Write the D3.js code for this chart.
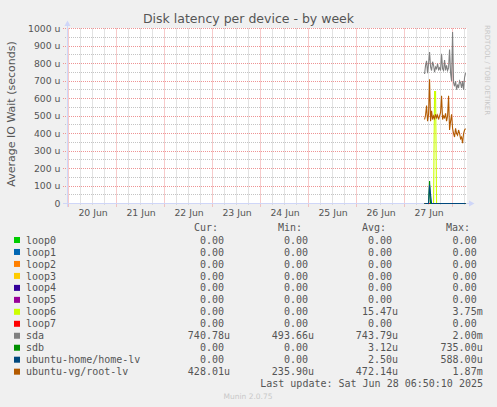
<!DOCTYPE html>
<html><head><meta charset="utf-8">
<script src="https://cdn.jsdelivr.net/npm/d3@7"></script>
<style>
html,body{margin:0;padding:0;background:#F0F0F0;}
svg{display:block;}
text{font-family:"DejaVu Sans",sans-serif;}
.mono{font-family:"DejaVu Sans Mono",monospace;white-space:pre;}
</style></head><body>
<svg id="chart" width="497" height="407"></svg>
<script>
// ---------------- data ----------------
const chartTitle = "Disk latency per device - by week";
const yAxisTitle = "Average IO Wait (seconds)";
const watermark = "RRDTOOL / TOBI OETIKER";
const footer = "Munin 2.0.75";
const lastUpdate = "Last update: Sat Jun 28 06:50:10 2025";

const seriesNames = ["loop0","loop1","loop2","loop3","loop4","loop5","loop6","loop7","sda","sdb","ubuntu-home/home-lv","ubuntu-vg/root-lv"];
const seriesColors = ["#00CC00","#0066B3","#FF8000","#FFCC00","#330099","#990099","#CCFF00","#FF0000","#808080","#008F00","#00487D","#B35A00"];

const yTickValues = [0,100,200,300,400,500,600,700,800,900,1000];
const yTickLabels = ["0","100 u","200 u","300 u","400 u","500 u","600 u","700 u","800 u","900 u","1000 u"];
const xTickDates = ["2025-06-20T12:00:00Z","2025-06-21T12:00:00Z","2025-06-22T12:00:00Z","2025-06-23T12:00:00Z","2025-06-24T12:00:00Z","2025-06-25T12:00:00Z","2025-06-26T12:00:00Z","2025-06-27T12:00:00Z"];
const xTickLabels = ["20 Jun","21 Jun","22 Jun","23 Jun","24 Jun","25 Jun","26 Jun","27 Jun"];
const timeDomain = ["2025-06-19T23:10:00Z","2025-06-28T07:10:00Z"];
const dataStart = "2025-06-27T10:00:00Z";
const stepMinutes = 30;

// values in microseconds (u)
const loop0 = [0,0,0,0,0,0,0,0,0,0,0,0,0,0,0,0,0,0,0,0,0,0,0,0,0,0,0,0,0,0,0,0,0,0,0,0,0,0,0,0,0,0];
const loop1 = [0,0,0,0,0,0,0,0,0,0,0,0,0,0,0,0,0,0,0,0,0,0,0,0,0,0,0,0,0,0,0,0,0,0,0,0,0,0,0,0,0,0];
const loop2 = [0,0,0,0,0,0,0,0,0,0,0,0,0,0,0,0,0,0,0,0,0,0,0,0,0,0,0,0,0,0,0,0,0,0,0,0,0,0,0,0,0,0];
const loop3 = [0,0,0,0,0,0,0,0,0,0,0,0,0,0,0,0,0,0,0,0,0,0,0,0,0,0,0,0,0,0,0,0,0,0,0,0,0,0,0,0,0,0];
const loop4 = [0,0,0,0,0,0,0,0,0,0,0,0,0,0,0,0,0,0,0,0,0,0,0,0,0,0,0,0,0,0,0,0,0,0,0,0,0,0,0,0,0,0];
const loop5 = [0,0,0,0,0,0,0,0,0,0,0,0,0,0,0,0,0,0,0,0,0,0,0,0,0,0,0,0,0,0,0,0,0,0,0,0,0,0,0,0,0,0];
const loop6 = [0,0,0,0,0,0,0,0,0,0,640,640,0,0,0,0,0,0,0,0,0,0,0,0,0,0,0,0,0,0,0,0,0,0,0,0,0,0,0,0,0,0];
const loop7 = [0,0,0,0,0,0,0,0,0,0,0,0,0,0,0,0,0,0,0,0,0,0,0,0,0,0,0,0,0,0,0,0,0,0,0,0,0,0,0,0,0,0];
const sda   = [740,790,815,745,800,865,780,760,810,790,750,780,770,800,765,775,760,855,770,760,820,760,790,760,775,880,745,700,980,690,670,700,650,680,660,700,690,660,700,650,720,745];
const sdb   = [0,0,0,0,0,128,0,0,0,0,0,0,0,0,0,0,0,0,0,0,0,0,0,0,0,0,0,0,0,0,0,0,0,0,0,0,0,0,0,0,0,0];
const homeLv = [0,0,0,0,0,105,50,0,0,0,0,0,0,0,0,0,0,0,0,0,0,0,0,0,0,0,0,0,0,0,0,0,0,0,0,0,0,0,0,0,0,0];
const rootLv = [480,505,560,470,510,710,470,530,480,500,485,510,490,505,480,500,520,615,480,500,490,515,470,500,615,420,470,510,430,400,380,430,400,390,420,400,370,380,345,400,420,428];

const seriesValues = [loop0,loop1,loop2,loop3,loop4,loop5,loop6,loop7,sda,sdb,homeLv,rootLv];

const legendHeaders = ["Cur:","Min:","Avg:","Max:"];
const curLabels = ["0.00 ","0.00 ","0.00 ","0.00 ","0.00 ","0.00 ","0.00 ","0.00 ","740.78u","0.00 ","0.00 ","428.01u"];
const minLabels = ["0.00 ","0.00 ","0.00 ","0.00 ","0.00 ","0.00 ","0.00 ","0.00 ","493.66u","0.00 ","0.00 ","235.90u"];
const avgLabels = ["0.00 ","0.00 ","0.00 ","0.00 ","0.00 ","0.00 ","15.47u","0.00 ","743.79u","3.12u","2.50u","472.14u"];
const maxLabels = ["0.00 ","0.00 ","0.00 ","0.00 ","0.00 ","0.00 ","3.75m","0.00 ","2.00m","735.00u","588.00u","1.87m"];

// ---------------- drawing ----------------
const svg = d3.select("#chart");
const FONT = "#555555";
const AXIS = "#CFD6F8";
const plot = {left: 67, right: 467, top: 28.5, bottom: 203.5};

const x = d3.scaleUtc().domain(timeDomain.map(d => new Date(d))).range([66.9, 466.9]);
const y = d3.scaleLinear().domain([0, 1000]).range([plot.bottom, plot.top]);

svg.append("rect").attr("x", 0).attr("y", 0).attr("width", 497).attr("height", 407).attr("fill", "#F0F0F0");
svg.append("rect").attr("x", plot.left).attr("y", 28).attr("width", plot.right - plot.left).attr("height", 176).attr("fill", "#FFFFFF");

const crisp = v => Math.floor(v) + 0.5;

// horizontal minor grid (every 50)
const minorY = d3.range(50, 1000, 100);
svg.append("g").selectAll("line").data(minorY).join("line")
  .attr("x1", 65).attr("x2", plot.right)
  .attr("y1", d => crisp(y(d))).attr("y2", d => crisp(y(d)))
  .attr("stroke", "#C4C4C4").attr("stroke-width", 1).attr("stroke-dasharray", "1,1");

// vertical minor grid (every 6h)
const minorX = d3.utcHour.every(6).range(new Date("2025-06-19T23:10:00Z"), new Date("2025-06-28T07:10:00Z"))
  .filter(d => d.getUTCHours() !== 0);
svg.append("g").selectAll("line").data(minorX).join("line")
  .attr("x1", d => crisp(x(d))).attr("x2", d => crisp(x(d)))
  .attr("y1", plot.top).attr("y2", 205)
  .attr("stroke", "#C4C4C4").attr("stroke-width", 1).attr("stroke-dasharray", "1,1");

// major horizontal grid
svg.append("g").selectAll("line").data(yTickValues.slice(1)).join("line")
  .attr("x1", 63).attr("x2", plot.right)
  .attr("y1", d => crisp(y(d))).attr("y2", d => crisp(y(d)))
  .attr("stroke", "#EE9494").attr("stroke-width", 1).attr("stroke-dasharray", "1,1");

// major vertical grid (midnights)
const majorX = d3.utcDay.range(new Date("2025-06-19T23:10:00Z"), new Date("2025-06-28T07:10:00Z"));
svg.append("g").selectAll("line").data(majorX).join("line")
  .attr("x1", d => crisp(x(d))).attr("x2", d => crisp(x(d)))
  .attr("y1", plot.top).attr("y2", 207)
  .attr("stroke", "#EE9494").attr("stroke-width", 1).attr("stroke-dasharray", "1,1");

// axes lines + arrows
svg.append("line").attr("x1", 63).attr("x2", 470).attr("y1", plot.bottom).attr("y2", plot.bottom).attr("stroke", AXIS);
svg.append("line").attr("x1", 67.5).attr("x2", 67.5).attr("y1", 207).attr("y2", 25).attr("stroke", AXIS);
svg.append("path").attr("d", "M469,200.5L469,206.5L474.5,203.5Z").attr("fill", AXIS);
svg.append("path").attr("d", "M64.5,26L70.5,26L67.5,20.5Z").attr("fill", AXIS);

// y axis labels via d3 axis
const yAxis = d3.axisLeft(y).tickValues(yTickValues)
  .tickFormat((d, i) => yTickLabels[i]).tickSize(0).tickPadding(7);
const gy = svg.append("g").attr("transform", "translate(67.5,0)").call(yAxis);
gy.select(".domain").remove();
gy.selectAll("text").attr("fill", FONT).style("font-family", "DejaVu Sans").style("font-size", "9.3px");

// x axis labels via d3 axis
const xAxis = d3.axisBottom(x).tickValues(xTickDates.map(d => new Date(d)))
  .tickFormat((d, i) => xTickLabels[i]).tickSize(0).tickPadding(6);
const gx = svg.append("g").attr("transform", "translate(0," + plot.bottom + ")").call(xAxis);
gx.select(".domain").remove();
gx.selectAll("text").attr("fill", FONT).style("font-family", "DejaVu Sans").style("font-size", "9.3px");

// series lines
const t0 = new Date(dataStart).getTime();
const line = d3.line()
  .x((d, i) => x(new Date(t0 + i * stepMinutes * 60000)))
  .y(d => y(d));
seriesValues.forEach((vals, k) => {
  svg.append("path").datum(vals)
    .attr("d", line)
    .attr("fill", "none")
    .attr("stroke", seriesColors[k])
    .attr("stroke-width", 1.1)
    .attr("stroke-linejoin", "miter");
});

// title
svg.append("text").attr("x", 248.5).attr("y", 23.3).attr("text-anchor", "middle")
  .attr("fill", FONT).style("font-size", "12.5px").text(chartTitle);

// y axis title
svg.append("text").attr("transform", "translate(14.5,114) rotate(-90)").attr("text-anchor", "middle")
  .attr("fill", FONT).style("font-size", "11px").text(yAxisTitle);

// watermark
svg.append("text").attr("transform", "translate(485,25) rotate(90)").attr("text-anchor", "start")
  .attr("fill", "#C8C8C8").style("font-size", "7px").text(watermark);

// legend
const rowCenter = i => 240 + i * 11.97;
const colStarts = [194, 278, 362, 446];
const colRights = [230, 314, 398, 482.7];
const lg = svg.append("g").attr("class", "mono").style("font-size", "10px");
lg.selectAll("text.hdr").data(legendHeaders).join("text").attr("class", "hdr mono")
  .attr("x", (d, i) => colStarts[i]).attr("y", 231.3).attr("fill", FONT).text(d => d);

seriesNames.forEach((name, i) => {
  const cy = rowCenter(i);
  lg.append("rect").attr("x", 14).attr("y", cy - 3).attr("width", 6).attr("height", 6).attr("fill", seriesColors[i]);
  lg.append("text").attr("class", "mono").attr("x", 26).attr("y", cy + 3.6).attr("fill", FONT).text(name);
  [curLabels, minLabels, avgLabels, maxLabels].forEach((arr, c) => {
    lg.append("text").attr("class", "mono").attr("x", colRights[c]).attr("y", cy + 3.6)
      .attr("text-anchor", "end").attr("fill", FONT).text(arr[i]);
  });
});
lg.append("text").attr("class", "mono").attr("x", 483).attr("y", rowCenter(12) + 3.3)
  .attr("text-anchor", "end").attr("fill", FONT).text(lastUpdate);

svg.append("text").attr("x", 248).attr("y", 399).attr("text-anchor", "middle")
  .attr("fill", "#C8C8C8").style("font-size", "7.5px").text(footer);
</script>
</body></html>
